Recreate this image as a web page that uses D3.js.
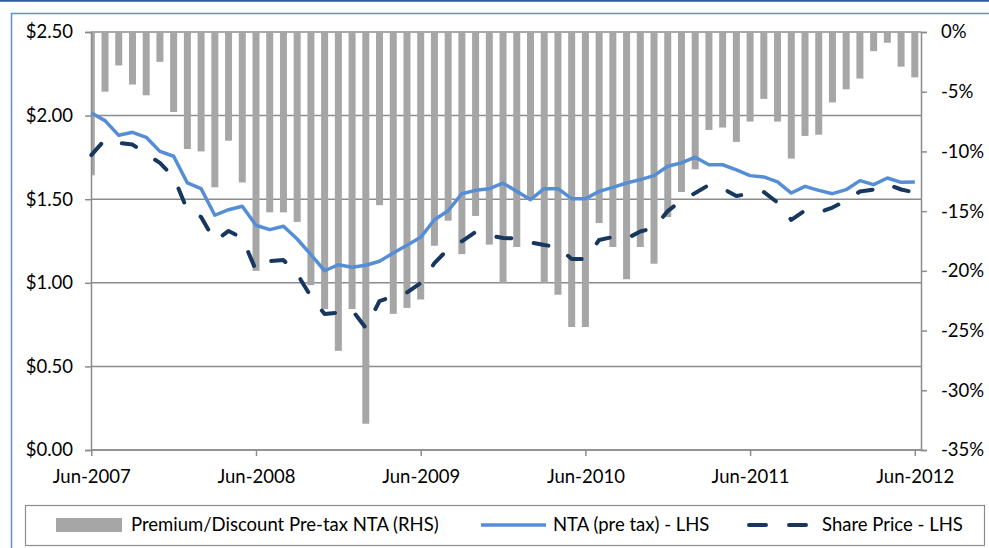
<!DOCTYPE html>
<html>
  <head>
    <meta charset="utf-8">
    <style>
    body {margin:0; background:white;}
    svg {display:block; background:white;}
    text {font-family: Lato, "Open Sans", sans-serif; fill: #000;}
    .grid line {stroke: #8c8c8c; stroke-width: 1.5;}
    .axis path, .axis line {stroke: #8c8c8c; stroke-width: 1.5; fill: none;}
    </style>
  </head>
  <body>
    <div id="chart"></div>
    <script src="https://d3js.org/d3.v7.min.js"></script>
    <script>

  // data: month-end values Jun-2007 .. Jun-2012

  var startMonth = new Date(2007, 5, 1);
  var months = d3.timeMonth.range(startMonth, new Date(2012, 6, 1));

  // premium/discount to pre-tax NTA (%), right axis
  var discount = [
    -12.0, -5.0, -2.8, -4.4, -5.3, -2.5, -6.7, -9.8, -10.0, -13.0, -9.1, -12.6,
    -20.0, -15.1, -15.1, -15.9, -21.2, -23.2, -26.7, -23.2, -32.8, -14.5, -23.6, -23.1,
    -22.4, -17.9, -15.8, -18.6, -15.4, -17.8, -21.0, -18.0, -14.0, -21.0, -22.0, -24.7,
    -24.7, -16.0, -18.0, -20.7, -18.0, -19.4, -15.5, -13.4, -11.5, -8.2, -8.0, -9.2,
    -7.5, -5.6, -7.5, -10.6, -8.7, -8.6, -5.9, -4.8, -3.9, -1.6, -0.9, -2.9,
    -3.8
  ];

  // NTA (pre tax), left axis
  var nta = [
    2.016, 1.970, 1.882, 1.900, 1.870, 1.786, 1.757, 1.597, 1.563, 1.404, 1.437, 1.458,
    1.344, 1.318, 1.338, 1.262, 1.168, 1.072, 1.108, 1.093, 1.105, 1.129, 1.178, 1.224,
    1.272, 1.377, 1.431, 1.533, 1.553, 1.563, 1.596, 1.547, 1.497, 1.563, 1.563, 1.503,
    1.503, 1.547, 1.571, 1.597, 1.617, 1.641, 1.697, 1.717, 1.751, 1.706, 1.706, 1.676,
    1.641, 1.633, 1.603, 1.537, 1.577, 1.553, 1.533, 1.557, 1.611, 1.587, 1.627, 1.601,
    1.603
  ];

  // share price, left axis
  var sharePrice = [
    1.764, 1.857, 1.836, 1.827, 1.770, 1.717, 1.633, 1.435, 1.394, 1.250, 1.310, 1.268,
    1.074, 1.130, 1.136, 1.053, 0.918, 0.813, 0.822, 0.837, 0.730, 0.891, 0.918, 0.942,
    0.999, 1.118, 1.202, 1.248, 1.304, 1.283, 1.268, 1.265, 1.241, 1.226, 1.214, 1.142,
    1.142, 1.256, 1.274, 1.264, 1.307, 1.328, 1.429, 1.492, 1.537, 1.585, 1.564, 1.519,
    1.534, 1.543, 1.480, 1.376, 1.432, 1.420, 1.450, 1.492, 1.546, 1.558, 1.588, 1.558,
    1.540
  ];

  var leftTicks = [0, 0.5, 1.0, 1.5, 2.0, 2.5];
  var rightTicks = [0, -5, -10, -15, -20, -25, -30, -35];
  var xTickIdx = [0, 12, 24, 36, 48, 60];

  var legendLabels = ["Premium/Discount Pre-tax NTA (RHS)", "NTA (pre tax) - LHS", "Share Price - LHS"];

  // layout

  var W = 989, H = 548;
  var plot = {left: 91, right: 921, top: 32, bottom: 450};
  var fontSize = "18.5px";

  var svg = d3.select("#chart")
    .append("svg")
    .attr("width", W)
    .attr("height", H);

  // outer frame
  svg.append("line")
    .attr("x1", 0).attr("x2", W).attr("y1", 0.75).attr("y2", 0.75)
    .attr("stroke", "#2f5c9e").attr("stroke-width", 2);
  svg.append("path")
    .attr("d", "M11.5," + H + "V13.5H" + W)
    .attr("fill", "none")
    .attr("stroke", "#5b8fd6").attr("stroke-width", 1.5);

  // scales
  var x = d3.scaleLinear()
    .domain([0, 60])
    .range([91.3, 914.8]);

  var yL = d3.scaleLinear()
    .domain([0, 2.5])
    .range([plot.bottom, plot.top]);

  var yR = d3.scaleLinear()
    .domain([-35, 0])
    .range([plot.bottom, plot.top]);

  svg.append("clipPath").attr("id", "clip")
    .append("rect")
    .attr("x", plot.left).attr("y", plot.top - 2)
    .attr("width", plot.right - plot.left).attr("height", plot.bottom - plot.top + 4);

  // gridlines
  svg.append("g")
    .attr("class", "grid")
    .selectAll("line")
    .data(leftTicks)
    .enter().append("line")
    .attr("x1", plot.left).attr("x2", plot.right)
    .attr("y1", function(d) { return yL(d); })
    .attr("y2", function(d) { return yL(d); });

  // bars
  var barW = 7;
  svg.append("g")
    .attr("clip-path", "url(#clip)")
    .selectAll("rect")
    .data(discount)
    .enter().append("rect")
    .attr("x", function(d, i) { return x(i) - barW / 2; })
    .attr("width", barW)
    .attr("y", yR(0))
    .attr("height", function(d) { return yR(d) - yR(0); })
    .attr("fill", "#a6a6a6");

  // axes
  var leftAxis = d3.axisLeft(yL)
    .tickValues(leftTicks)
    .tickSize(6)
    .tickPadding(12)
    .tickFormat(function(d) { return "$" + d3.format(".2f")(d); });

  var rightAxis = d3.axisRight(yR)
    .tickValues(rightTicks)
    .tickSize(6)
    .tickPadding(14)
    .tickFormat(function(d) { return d + "%"; });

  var bottomAxis = d3.axisBottom(x)
    .tickValues(xTickIdx)
    .tickSize(6)
    .tickPadding(14)
    .tickFormat(function(d) { return d3.timeFormat("%b-%Y")(months[d]); });

  var gl = svg.append("g")
    .attr("class", "axis")
    .attr("transform", "translate(" + plot.left + ",0)")
    .call(leftAxis);

  var gr = svg.append("g")
    .attr("class", "axis")
    .attr("transform", "translate(" + plot.right + ",0)")
    .call(rightAxis);

  var gb = svg.append("g")
    .attr("class", "axis")
    .attr("transform", "translate(0," + plot.bottom + ")")
    .call(bottomAxis);

  // bottom axis line spans the whole plot width
  gb.select(".domain").attr("d", "M" + plot.left + ",0H" + plot.right);

  [gl, gr, gb].forEach(function(g) {
    g.selectAll("text")
      .style("font-family", "Lato, 'Open Sans', sans-serif")
      .style("font-size", fontSize)
      .attr("fill", "#000");
  });

  // lines
  var valueLine = d3.line()
    .x(function(d, i) { return x(i); })
    .y(function(d) { return yL(d); });

  svg.append("path")
    .datum(nta)
    .attr("d", valueLine)
    .attr("fill", "none")
    .attr("stroke", "#558ed5")
    .attr("stroke-width", 3.5)
    .attr("stroke-linejoin", "round");

  svg.append("path")
    .datum(sharePrice)
    .attr("d", valueLine)
    .attr("fill", "none")
    .attr("stroke", "#17375e")
    .attr("stroke-width", 4)
    .attr("stroke-linejoin", "round")
    .attr("stroke-linecap", "round")
    .attr("stroke-dasharray", "15,23");

  // legend
  var lg = svg.append("g");
  lg.append("rect")
    .attr("x", 25.5).attr("y", 505.5)
    .attr("width", 959).attr("height", 40)
    .attr("fill", "white")
    .attr("stroke", "#8c8c8c").attr("stroke-width", 1.2);

  var ly = 525;
  lg.append("rect")
    .attr("x", 56).attr("y", ly - 7)
    .attr("width", 66).attr("height", 14)
    .attr("fill", "#a6a6a6");
  lg.append("line")
    .attr("x1", 481).attr("x2", 546)
    .attr("y1", ly).attr("y2", ly)
    .attr("stroke", "#558ed5").attr("stroke-width", 3.5);
  lg.append("line")
    .attr("x1", 749).attr("x2", 810)
    .attr("y1", ly).attr("y2", ly)
    .attr("stroke", "#17375e").attr("stroke-width", 4)
    .attr("stroke-linecap", "round")
    .attr("stroke-dasharray", "17,23");

  var legendX = [131, 553, 822];
  lg.selectAll(".lt")
    .data(legendLabels)
    .enter().append("text")
    .attr("class", "lt")
    .attr("x", function(d, i) { return legendX[i]; })
    .attr("y", ly)
    .attr("dy", "0.35em")
    .style("font-size", fontSize)
    .text(function(d) { return d; });

    </script>
  </body>
</html>
